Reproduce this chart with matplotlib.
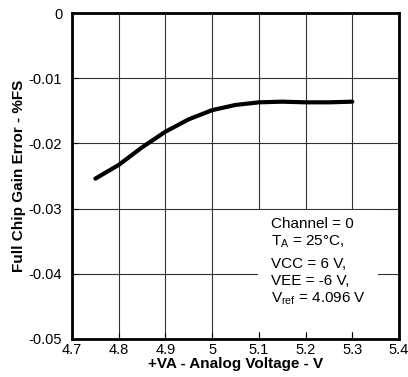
import matplotlib
matplotlib.use("Agg")
import matplotlib.pyplot as plt
from matplotlib.patches import Rectangle

plt.rcParams['font.family'] = ['Liberation Sans', 'DejaVu Sans']
plt.rcParams['mathtext.fontset'] = 'custom'
plt.rcParams['mathtext.rm'] = 'Liberation Sans'
plt.rcParams['mathtext.it'] = 'Liberation Sans'

# Data
voltage = [4.75, 4.80, 4.85, 4.90, 4.95, 5.00, 5.05, 5.10, 5.15, 5.20, 5.25, 5.30]
gain_error = [-0.0254, -0.0233, -0.0206, -0.0182, -0.0163, -0.0149, -0.0141,
              -0.0137, -0.0136, -0.0137, -0.0137, -0.0136]
xticks = [4.7, 4.8, 4.9, 5.0, 5.1, 5.2, 5.3, 5.4]
xticklabels = ["4.7", "4.8", "4.9", "5", "5.1", "5.2", "5.3", "5.4"]
yticks = [0, -0.01, -0.02, -0.03, -0.04, -0.05]
yticklabels = ["0", "-0.01", "-0.02", "-0.03", "-0.04", "-0.05"]
note_lines = ["Channel = 0", "T$_\\mathrm{A}$ = 25°C,", "VCC = 6 V,", "VEE = -6 V,",
              "V$_\\mathrm{ref}$ = 4.096 V"]

fig = plt.figure(figsize=(4.08, 3.77), dpi=100)
ax = fig.add_axes([0.1765, 0.1008, 0.8015, 0.8647])

ax.set_xlim(4.7, 5.4)
ax.set_ylim(-0.05, 0)
ax.set_xticks(xticks)
ax.set_xticklabels(xticklabels)
ax.set_yticks(yticks)
ax.set_yticklabels(yticklabels)
ax.set_axisbelow(True)
ax.grid(True, color='#333333', linewidth=0.8)
ax.tick_params(direction='in', length=4.5, width=0.8, labelsize=10.5, colors='black')
ax.tick_params(axis='x', pad=3)
ax.tick_params(axis='y', pad=7)
for s in ax.spines.values():
    s.set_linewidth(2)

# white box behind annotation
ax.add_patch(Rectangle((5.098, -0.0489), 5.355 - 5.098, 0.0489 - 0.0302,
                       facecolor='white', edgecolor='none', zorder=1))

ax.plot(voltage, gain_error, color='black', linewidth=3, solid_capstyle='round', zorder=3)

ys = [0.340, 0.288, 0.218, 0.166, 0.113]
for t, yy in zip(note_lines, ys):
    ax.text(0.610, yy, t, transform=ax.transAxes, fontsize=11, va='baseline', ha='left', zorder=4)

ax.set_xlabel("+VA - Analog Voltage - V", fontsize=11, fontweight='bold', labelpad=0)
ax.set_ylabel("Full Chip Gain Error - %FS", fontsize=11, fontweight='bold', labelpad=2)

fig.savefig("out.png", dpi=100)
